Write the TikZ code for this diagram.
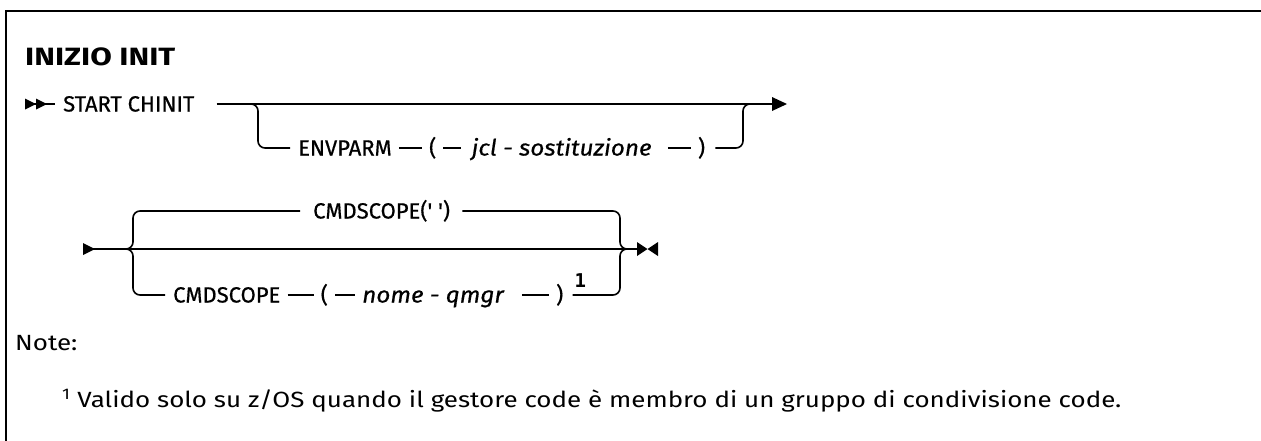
\documentclass[tikz,border=0pt]{standalone}
\usepackage{fontspec}
\setmainfont{Fira Sans}
\newfontfamily\railfont[FakeBold=0.6]{Fira Sans}
\newfontfamily\varfont[FakeBold=0.6, FakeStretch=1.08]{Fira Sans}
\newfontfamily\widefont[FakeStretch=1.18]{Fira Sans}
\newfontfamily\titlefont[FakeStretch=1.25]{Fira Sans}
\newfontfamily\markfont{DejaVu Sans Mono}
\usetikzlibrary{positioning}

\tikzset{
    rail/.style={line width=1.6pt, black},
    railbend/.style={rail, rounded corners=7pt},
    seg/.style={rail, shorten <=7pt, shorten >=7pt},
    kw/.style={anchor=base west, inner sep=0pt, font=\railfont\fontsize{22}{26}\selectfont},
    var/.style={kw, font=\varfont\fontsize{22.5}{26}\selectfont\itshape},
    tip/.style={fill=black}
}

\begin{document}
\begin{tikzpicture}[x=1pt, y=-1pt]
    \useasboundingbox (0,0) rectangle (1261,440);

    % Frame
    \draw[line width=2.2pt] (6,441) -- (6,11) -- (1262,11);
    \node[anchor=base west, inner sep=0pt, font=\titlefont\fontsize{25}{28}\selectfont\bfseries] (title) at (25,65) {INIZIO INIT};

    % Rows of the first diagram
    \coordinate (r1) at (0,104);
    \coordinate (r1b) at (0,148);
    \coordinate (begA) at (25,104);
    \coordinate (endA) at (772,104);
    \coordinate (f1) at (250,104);
    \coordinate (j1) at (751,104);

    \fill[tip] (begA) ++(0,-5.5) -- ++(11,5.5) -- ++(-11,5.5) -- cycle;
    \fill[tip] (begA) ++(11,-5.5) -- ++(11,5.5) -- ++(-11,5.5) -- cycle;
    \draw[rail] (begA) -- ++(30,0);
    \node[kw] (start) at (63,111.5) {START CHINIT};
    \draw[rail] ([xshift=22pt]start.east |- r1) -- (endA);
    \fill[tip] (endA) ++(0,-7) -- ++(15,7) -- ++(-15,7) -- cycle;

    % ENVPARM branch
    \node[kw] (envparm) at (298,155.5) {ENVPARM};
    \node[kw, base right=37pt of envparm] (lpA) {(};
    \node[var, base right=35pt of lpA] (jcl) {jcl - sostituzione};
    \node[kw, base right=46pt of jcl] (rpA) {)};
    \draw[railbend] (f1) -- ++(8,0) |- ([xshift=-8pt]envparm.west |- r1b);
    \draw[seg] (envparm.east |- r1b) -- (lpA.west |- r1b);
    \draw[seg, shorten >=10pt] (lpA.east |- r1b) -- (jcl.west |- r1b);
    \draw[seg, shorten <=16pt] (jcl.east |- r1b) -- (rpA.west |- r1b);
    \draw[railbend] ([xshift=10pt]rpA.east |- r1b) -| ([xshift=-8pt]j1) -- (j1);

    % Rows of the second diagram
    \coordinate (r2a) at (0,211);
    \coordinate (r2) at (0,249);
    \coordinate (r2b) at (0,295);
    \coordinate (begB) at (83,249);
    \coordinate (endB) at (637,249);
    \coordinate (f2) at (125,249);
    \coordinate (j2) at (628,249);

    \fill[tip] (begB) ++(0,-6) -- ++(12,6) -- ++(-12,6) -- cycle;
    \draw[rail] (begB) -- (endB);
    \fill[tip] (endB) ++(0,-7) -- ++(10.5,7) -- ++(-10.5,7) -- cycle;
    \fill[tip] (endB) ++(21,-7) -- ++(-10.5,7) -- ++(10.5,7) -- cycle;

    % CMDSCOPE choices
    \node[kw] (cmdq) at (313,218.5) {CMDSCOPE(' ')};
    \draw[railbend] (f2) -- ++(8,0) |- ([xshift=-13pt]cmdq.west |- r2a);
    \draw[railbend] ([xshift=12pt]cmdq.east |- r2a) -| ([xshift=-8pt]j2) -- (j2);

    \node[kw] (cmd) at (173,302.5) {CMDSCOPE};
    \node[kw, base right=40pt of cmd] (lpB) {(};
    \node[var, base right=34pt of lpB] (nome) {nome - qmgr};
    \node[kw, base right=52pt of nome] (rpB) {)};
    \node[anchor=base west, inner sep=0pt, font=\markfont\fontsize{19}{22}\selectfont\bfseries, xshift=11pt] (fnmark) at (rpB.east |- 0,287) {1};
    \draw[railbend] (f2) -- ++(8,0) |- ([xshift=-8pt]cmd.west |- r2b);
    \draw[seg] (cmd.east |- r2b) -- (lpB.west |- r2b);
    \draw[seg] (lpB.east |- r2b) -- (nome.west |- r2b);
    \draw[seg, shorten <=18pt] (nome.east |- r2b) -- (rpB.west |- r2b);
    \draw[railbend] ([xshift=9pt]rpB.east |- r2b) -| ([xshift=-8pt]j2) -- (j2);

    % Notes
    \node[anchor=base west, inner sep=0pt, font=\widefont\fontsize{22}{25}\selectfont] (note) at (15,350) {Note:};
    \node[anchor=base west, inner sep=0pt, font=\widefont\fontsize{22}{25}\selectfont] (footnote) at (62,407) {\textsuperscript{1}\ Valido solo su z/OS quando il gestore code è membro di un gruppo di condivisione code.};
\end{tikzpicture}
\end{document}
